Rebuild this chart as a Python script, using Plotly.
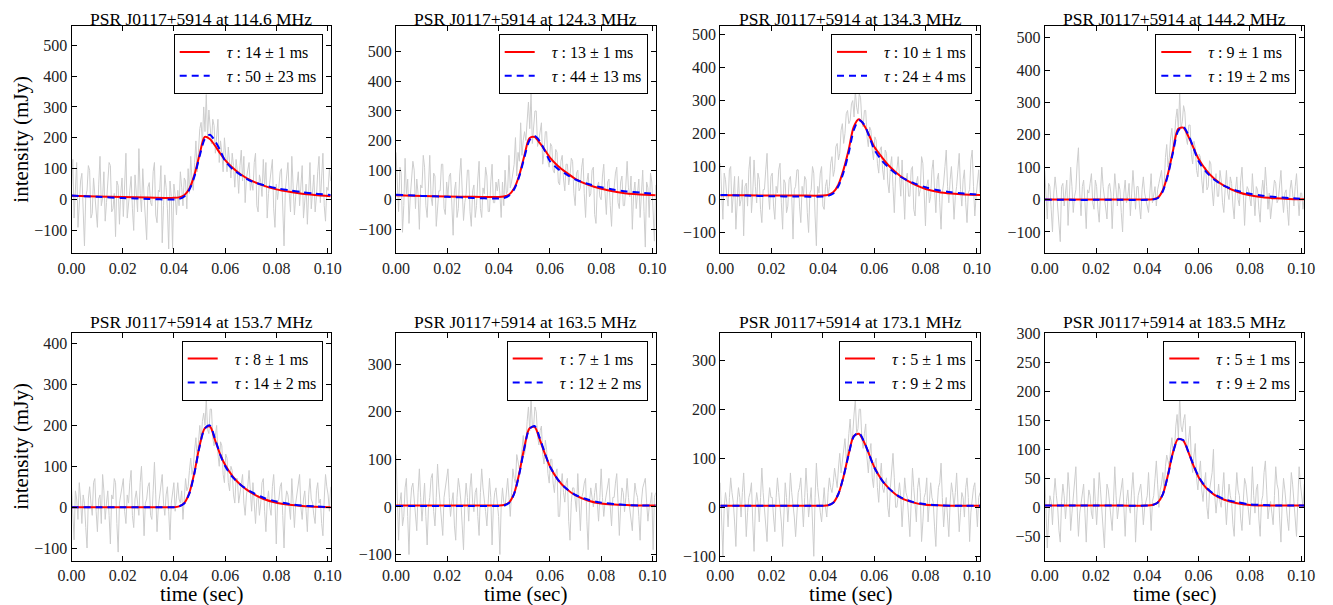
import numpy as np
import plotly.graph_objects as go

# ---------------- data ----------------
freqs = ["114.6", "124.3", "134.3", "144.2", "153.7", "163.5", "173.1", "183.5"]
tau_red = ["14 ± 1", "13 ± 1", "10 ± 1", "9 ± 1", "8 ± 1", "7 ± 1", "5 ± 1", "5 ± 1"]
tau_blue = ["50 ± 23", "44 ± 13", "24 ± 4", "19 ± 2", "14 ± 2", "12 ± 2", "9 ± 2", "9 ± 2"]

t_end = 0.1012
# knot times of the fitted profiles (sec)
t_fit = [0, 0.01, 0.02, 0.03, 0.04, 0.042, 0.044, 0.046, 0.048, 0.050, 0.052, 0.054,
         0.056, 0.058, 0.060, 0.063, 0.066, 0.070, 0.075, 0.080, 0.085, 0.090, 0.095, 0.1012]

fit_red_1 = [12, 10, 8, 6.5, 5.5, 7, 14, 35, 80, 145, 203, 196, 175, 150, 128, 102, 82, 62, 45, 33, 25, 19, 15, 11]
fit_blue_1 = [13, 9, 5, 2, 0, 2, 10, 32, 75, 140, 195, 210, 190, 160, 125, 98, 80, 60, 47, 37, 30, 24, 19, 15]
fit_red_2 = [15, 13, 11, 10, 9, 11, 17, 38, 82, 148, 208, 212, 192, 168, 142, 115, 94, 70, 50, 37, 28, 21, 18, 15]
fit_blue_2 = [17, 13, 10, 6, 4, 6, 14, 35, 78, 142, 200, 215, 198, 165, 130, 105, 88, 68, 53, 42, 34, 28, 24, 20]
fit_red_3 = [13, 13, 12, 12, 12, 14, 22, 45, 90, 150, 220, 243, 225, 195, 160, 128, 100, 72, 48, 32, 23, 18, 15, 14]
fit_blue_3 = [14, 12, 10, 9, 9, 11, 18, 40, 82, 140, 210, 240, 228, 192, 152, 118, 94, 70, 51, 37, 28, 22, 18, 15]
fit_red_4 = [0, 0, 0, 0, 0, 1, 5, 28, 78, 150, 218, 222, 195, 160, 125, 90, 65, 42, 24, 13, 7, 4, 2, 1]
fit_blue_4 = [0, -1, -1, -1, -1, 0, 4, 25, 75, 145, 212, 225, 200, 160, 118, 85, 62, 42, 27, 18, 12, 8, 5, 2]
fit_red_5 = [0, 0, 0, 0, 0, 2, 10, 35, 85, 150, 193, 198, 165, 130, 103, 75, 55, 36, 20, 11, 6, 3, 1, 0]
fit_blue_5 = [0, 0, 0, 0, 0, 2, 9, 33, 83, 148, 192, 200, 168, 130, 100, 73, 55, 38, 23, 14, 8, 4, 2, 0]
fit_red_6 = [3, 3, 3, 3, 3, 4, 9, 28, 70, 125, 165, 168, 142, 112, 85, 58, 40, 24, 13, 7, 5, 4, 3, 3]
fit_blue_6 = [2, 2, 2, 2, 2, 3, 8, 27, 68, 123, 164, 170, 145, 113, 85, 58, 40, 25, 15, 9, 6, 4, 3, 3]
fit_red_7 = [3, 3, 3, 3, 3, 4, 9, 27, 62, 108, 145, 150, 133, 108, 82, 55, 37, 20, 10, 5, 4, 3, 3, 3]
fit_blue_7 = [3, 3, 3, 3, 3, 4, 9, 27, 62, 107, 144, 152, 134, 108, 81, 55, 37, 21, 11, 6, 4, 3, 3, 3]
fit_red_8 = [3, 3, 3, 3, 3, 4, 8, 22, 55, 95, 118, 115, 95, 72, 52, 33, 22, 13, 7, 4, 3, 3, 3, 3]
fit_blue_8 = [3, 3, 3, 3, 3, 4, 8, 22, 54, 94, 117, 116, 96, 73, 53, 34, 23, 14, 9, 5, 4, 3, 3, 3]

# observed profiles (mJy), evenly sampled over 0 .. t_end
obs_1 = [40, 130, -60, 20, 120, -90, -20, 60, 85, -40, -150, 10, 30, 110, 95, -60, -45, 70, 10, -30,
         -90, 50, 140, -20, 5, 90, -70, -10, 60, 120, 110, -40, -30, 20, -120, 60, 45, -80, 20, 70,
         -55, 30, 150, -60, -10, 40, 75, -30, -100, 80, 30, -40, 165, 20, -40, 100, 10, -70, -130, 40,
         55, -10, -20, 90, 120, -50, -75, 30, 25, 110, -140, -20, 80, 40, -30, -160, 60, 10, -160, 50,
         15, -50, 30, -20, 90, 40, -20, 70, 60, -30, 100, 20, 140, 60, 30, 120, 190, 90, 150, 230,
         250, 180, 300, 220, 340, 200, 290, 230, 180, 260, 240, 150, 200, 260, 120, 190, 150, 90, 200, 140,
         90, 170, 130, 70, 150, 110, 40, 130, 90, 20, 110, 160, 60, 140, -10, 70, 95, 120, 30, 60,
         30, 120, 150, -20, -40, 80, 60, 10, 130, 40, 120, -60, 20, 60, 90, 130, -30, -90, 50, 0,
         40, 90, 100, -20, -150, 30, 70, 120, 20, -40, 140, 60, -50, 10, 60, 90, -20, 40, 110, -60,
         0, 50, -80, 20, 120, -30, 40, 80, -40, 10, 90, 140, -10, 60, 150, -20, -70, 40, 30, 100, 60]
obs_2 = [160, 60, -40, 110, 90, -110, -20, 140, 20, 70, -80, 10, 60, 130, 100, -30, 70, 20, -100, 50,
         40, 150, 110, -20, -60, 40, 150, 10, -20, 90, 80, -90, -40, 30, 30, 120, 120, -30, -50, 60,
         10, 80, 90, -40, -120, 30, 60, -60, -30, 80, 140, 30, -70, -10, 20, 100, 100, -40, -90, 30,
         50, -60, -20, 70, 130, -30, -60, 40, 20, 110, 80, -40, -40, 60, 120, -10, -10, 60, 30, 70,
         20, -60, 60, -20, 100, 20, 30, 150, 40, 60, 90, 120, 210, 80, 160, 130, 260, 150, 200, 230,
         200, 260, 330, 240, 360, 190, 250, 300, 300, 180, 200, 240, 260, 120, 160, 230, 230, 130, 110, 190,
         180, 100, 90, 170, 160, 60, 50, 130, 150, 70, 30, 120, 120, 50, 80, 140, 130, 20, -20, 90,
         100, 30, 40, 110, 140, 20, -60, 60, 90, 10, 20, 100, 110, -50, -80, 40, 60, 10, 0, 80,
         120, 20, -50, 60, 70, -20, -90, 30, 40, 90, 110, -10, -30, 60, 80, -20, -20, 50, 130, 40,
         10, 80, -100, 20, 60, -30, 20, 70, -60, 50, 100, -40, -160, 60, 40, -60, 90, 60, -20, -140, 50]
obs_3 = [110, 20, -60, 80, 60, 10, -20, 90, 100, -40, 30, 70, -90, 20, 70, -20, 0, 60, -110, 40,
         50, -20, 90, 130, -40, 20, 120, 40, -10, 80, 60, -30, -70, 30, 30, 90, 140, 20, -30, 70,
         80, -20, -60, 40, 20, 90, 110, -10, -90, 60, 50, -40, -20, 60, 70, 10, -120, 30, 40, 90,
         90, -20, -70, 40, 10, 70, 60, -40, -100, 20, 30, 100, 80, -50, -140, 40, 20, 80, 100, -20,
         -30, 40, 60, 10, 40, 110, 130, 70, 90, 160, 170, 120, 140, 210, 230, 170, 200, 260, 270, 230,
         240, 290, 300, 250, 330, 280, 260, 320, 310, 240, 220, 270, 270, 190, 160, 220, 210, 150, 120, 190,
         180, 110, 80, 150, 160, 90, 60, 150, 140, 50, 20, 100, 130, 40, -40, 70, 90, 130, 60, 10,
         120, 40, -60, 60, 80, 10, 10, 90, 100, -30, -50, 50, 70, 10, 30, 130, 110, 20, -80, 40,
         60, -10, 10, 90, 120, 30, -40, 60, 80, -10, -90, 20, 50, 100, 150, 40, -10, 60, 100, 30,
         -60, 10, 40, 90, 140, 30, -20, 60, 90, -10, -70, 20, 30, 120, 150, 40, -50, 10, 60, 90, 20]
obs_4 = [90, 10, -60, 50, 40, -30, -100, 20, 70, 30, -20, -60, -130, 40, 50, -20, 20, 60, -80, 10,
         100, 40, -40, 10, 30, 110, 160, 20, -50, 40, 60, -10, -90, 30, 20, 50, 80, -10, -30, 60,
         40, -30, -70, 20, 100, 40, 10, -20, -60, 40, 50, 20, -90, 10, 80, 30, -20, 50, 30, -40,
         -100, 20, 60, -10, 10, 50, -50, 20, 90, 30, -30, 40, 40, -20, -60, 30, 70, 20, 0, -30,
         -40, 20, 80, -10, 20, 40, -20, 30, 50, 70, 90, 30, 40, 130, 170, 100, 130, 190, 220, 160,
         190, 250, 280, 210, 330, 220, 240, 290, 270, 190, 170, 230, 230, 140, 110, 180, 160, 90, 70, 140,
         130, 60, 20, 90, 100, 30, 40, 120, 110, 30, -20, 50, 80, 10, 10, 90, 60, -10, -40, 30,
         90, 20, 0, 70, 50, -20, -60, 30, 70, 0, -20, 60, 100, 20, -80, 10, 40, 30, 10, -20,
         80, 20, -50, 40, 30, -30, -70, 20, 60, 10, 100, 40, -30, 20, -60, -20, 20, 60, 50, -10,
         0, 50, 90, 10, -40, 20, 30, -30, -80, 30, 60, 20, -20, 40, 80, 10, -50, 20, 20, -30, 10]
obs_5 = [50, -20, -80, 40, 20, -30, 60, 20, -40, 30, 10, -50, -100, 20, 50, 10, -20, 60, 70, -10,
         -60, 20, 30, -40, 80, 40, -30, 10, 40, -20, -90, 30, 20, 70, 60, -40, -110, 10, 30, 50,
         70, -10, -40, 30, 10, 60, 90, -20, -50, 20, 40, 10, -20, 60, 100, 20, -70, 10, 20, 50,
         60, -20, -30, 40, 110, 30, -60, 0, 30, 60, 80, 10, -20, 30, 50, -10, -80, 10, 40, 60,
         -10, 30, 60, 20, 10, 40, -30, 20, 70, 40, 50, 90, 120, 80, 100, 140, 170, 120, 160, 200,
         160, 210, 230, 200, 265, 190, 180, 240, 240, 170, 150, 180, 200, 130, 100, 160, 150, 80, 60, 130,
         120, 60, 40, 100, 90, 30, 10, 70, 70, 10, 30, 60, 80, 10, -20, 30, 50, 90, 20, -10,
         60, 20, -40, 20, 30, -20, 10, 60, 70, -10, -60, 10, 40, 0, -20, 50, 80, 20, -90, 10,
         20, 50, 60, -20, -100, 10, 40, 30, 0, -30, 70, 20, -50, 10, 30, 60, 80, 0, -30, 20,
         40, -10, -60, 30, 70, 20, 10, -20, -40, 40, 60, 10, 20, -40, -70, 20, 80, 50, 30, -10, 50]
obs_6 = [110, 20, -70, 10, 30, -40, -20, 40, 60, -20, -100, 0, 40, 50, 10, -30, -50, 30, 80, 20,
         -30, 10, 50, -20, -80, 0, 20, 60, 70, -10, -40, 20, 90, 40, 0, -20, -60, 20, 40, 60,
         80, 20, -20, 10, 30, -40, -70, 20, 60, 40, 10, -40, -90, 10, 50, 20, -30, 40, 70, 10,
         -10, 30, 40, -20, -60, 30, 80, 40, 20, -10, -40, 10, 60, 20, -80, 0, 30, 40, 10, -20,
         -100, 0, 40, 10, 0, 30, 60, 20, -20, 30, 80, 60, 50, 110, 90, 80, 90, 130, 150, 110,
         130, 180, 210, 160, 230, 170, 170, 210, 200, 150, 130, 160, 170, 110, 90, 140, 120, 70, 50, 100,
         100, 50, 30, 70, 80, -20, -20, 40, 70, 30, 10, 50, 60, -30, -70, 10, 40, 40, 20, -10,
         70, 20, -50, 20, 30, 50, 60, -30, -90, 10, 40, 20, 0, 30, 50, 10, -30, 20, 80, 20,
         -20, 10, 30, 50, 60, 0, -40, 20, 20, 50, 70, 10, -60, 0, 40, 30, -10, 20, 60, 20,
         0, -30, -50, 10, 50, 30, 20, -20, -70, 10, 40, 50, 60, 10, -30, 0, 10, 30, -90, 20, 30]
obs_7 = [50, -40, -100, 0, 30, 10, -40, 20, 60, 30, 10, -30, -80, 10, 40, 20, -20, 30, 70, 10,
         -60, -10, 20, 30, 50, -30, -90, 0, 30, 10, -30, 20, 80, 30, -10, -40, -70, 10, 40, 20,
         20, -20, -50, 20, 60, 30, 0, -30, -80, 10, 50, 20, -30, 10, 70, 30, 10, -20, -60, 0,
         30, 40, 60, 10, -40, 20, 80, 30, -20, 10, 40, -30, -100, 20, 90, 40, 10, -10, -30, 10,
         40, 0, -20, 30, 60, 40, 30, 50, 80, 60, 40, 80, 110, 70, 90, 120, 140, 100, 110, 150,
         180, 130, 150, 190, 220, 150, 160, 200, 200, 140, 120, 150, 170, 100, 70, 110, 130, 60, 40, 90,
         100, 40, 10, 60, 90, 40, 30, 50, 60, 0, -20, 40, 70, 110, 60, 0, 0, 30, 50, 20,
         -40, 10, 60, 30, 20, -20, -60, 10, 80, 40, 0, -30, 40, 60, 30, -70, -30, 20, 30, 60,
         -30, 10, 50, 20, 10, -40, -80, 0, 40, 50, 90, 20, -40, 0, 20, -20, -60, 10, 50, 30,
         0, 30, 70, 10, -50, -10, 30, 20, -20, 40, 60, 20, -70, -10, 20, 40, 50, 10, -40, 20, 30]
obs_8 = [60, 0, -70, -20, 20, 10, -30, 20, 50, 20, 0, -40, -60, 10, 40, 20, -20, 10, 60, 30,
         -40, -10, 20, 40, 70, 0, -50, -10, 10, 30, 40, -10, -60, 0, 30, 20, -10, -20, 50, 10,
         -30, 10, 60, 30, 0, -40, -70, 0, 40, 30, 10, -20, -40, 10, 70, 20, -20, 0, 20, 30,
         50, 0, -50, 10, 30, 0, -10, 30, 60, 20, -60, -10, 20, 30, 40, 10, -30, 0, 10, 20,
         60, 20, -40, 10, 20, 50, 80, 40, 0, 30, 40, 60, 30, 70, 90, 80, 70, 100, 120, 90,
         100, 140, 160, 120, 190, 140, 130, 150, 160, 110, 100, 120, 140, 80, 60, 90, 110, 50, 30, 60,
         80, 30, 10, 40, 60, 0, -20, 30, 50, 60, 100, 20, -10, 20, 40, 10, 0, 30, 60, 10,
         -30, 10, 40, 20, 10, -30, -50, 20, 60, 30, 20, -20, -40, 10, 50, 40, 20, -10, -30, 10,
         70, 20, -10, 30, 40, -20, -50, 10, 20, 60, 80, 30, -20, 0, 10, -10, -30, 20, 70, 40,
         30, -20, -60, 10, 50, 30, 0, -20, -40, 10, 60, 40, 10, -30, -50, 10, 70, 40, 20, 0, 40]

y_ranges = [[-174, 562], [-181, 587], [-163, 526], [-166, 536],
            [-131, 427], [-113, 366], [-109, 356], [-92, 301]]
y_dticks = [100, 100, 100, 100, 100, 100, 100, 50]

obs = [obs_1, obs_2, obs_3, obs_4, obs_5, obs_6, obs_7, obs_8]
fit_red = [fit_red_1, fit_red_2, fit_red_3, fit_red_4, fit_red_5, fit_red_6, fit_red_7, fit_red_8]
fit_blue = [fit_blue_1, fit_blue_2, fit_blue_3, fit_blue_4, fit_blue_5, fit_blue_6, fit_blue_7, fit_blue_8]

# ---------------- layout geometry (screen pixels) ----------------
W, H = 1333, 605
OFF = 8  # the page places the figure 8 px from the window's top-left corner
col_px = [(71.5, 330.7), (396, 655.7), (720.3, 980), (1044.7, 1304.3)]
row_px = [(26, 253.3), (332.7, 560.7)]
title_y = [18.7, 321.7]


def px(x):
    return (x - OFF) / W


def py(y):
    return 1 - (y - OFF) / H


FONT = "Liberation Serif"
PAD = "\u00a0\u00a0\u00a0"
fig = go.Figure()
annotations = []

for k in range(8):
    r, c = divmod(k, 4)
    n = k + 1
    xa = "x" if n == 1 else f"x{n}"
    ya = "y" if n == 1 else f"y{n}"
    lg = "legend" if n == 1 else f"legend{n}"
    t_obs = np.linspace(0, t_end, len(obs[k]))
    fig.add_trace(go.Scatter(x=t_obs, y=obs[k], mode="lines",
                             line=dict(color="#cdcdcd", width=1),
                             showlegend=False, hoverinfo="skip",
                             xaxis=xa, yaxis=ya))
    fig.add_trace(go.Scatter(x=t_fit, y=fit_red[k], mode="lines",
                             line=dict(color="#ff0000", width=2, shape="spline", smoothing=0.8),
                             name=f"{PAD}<i>τ</i> : {tau_red[k]} ms", legend=lg,
                             xaxis=xa, yaxis=ya))
    fig.add_trace(go.Scatter(x=t_fit, y=fit_blue[k], mode="lines",
                             line=dict(color="#0000ff", width=2, dash="7px,5px", shape="spline", smoothing=0.8),
                             name=f"{PAD}<i>τ</i> : {tau_blue[k]} ms", legend=lg,
                             xaxis=xa, yaxis=ya))

    x0, x1 = col_px[c]
    y0, y1 = row_px[r]
    dom_x = [px(x0), px(x1)]
    dom_y = [py(y1), py(y0)]
    axis_common = dict(showline=True, linecolor="black", linewidth=1, mirror="ticks",
                       ticks="inside", ticklen=5, tickcolor="black", showgrid=False,
                       zeroline=False, automargin=False,
                       tickfont=dict(family=FONT, size=16, color="#222"))
    fig.update_layout({
        ("xaxis" if n == 1 else f"xaxis{n}"): dict(
            domain=dom_x, anchor=ya, range=[0, t_end], dtick=0.02, tick0=0,
            tickformat=".2f", **axis_common),
        ("yaxis" if n == 1 else f"yaxis{n}"): dict(
            domain=dom_y, anchor=xa, range=y_ranges[k], dtick=y_dticks[k], tick0=0,
            **axis_common),
        lg: dict(x=px(x1 - 8), y=py(y0 + 8), xanchor="right", yanchor="top",
                 xref="paper", yref="paper", bgcolor="white", bordercolor="black",
                 borderwidth=1, font=dict(family=FONT, size=16, color="black"),
                 tracegroupgap=0),
    })
    annotations.append(dict(text=f"PSR J0117+5914 at {freqs[k]} MHz", x=px((x0 + x1) / 2),
                            y=py(title_y[r]), xref="paper", yref="paper",
                            showarrow=False, xanchor="center", yanchor="middle",
                            font=dict(family=FONT, size=17.5, color="black")))
    if c == 0:
        annotations.append(dict(text="intensity (mJy)", x=px(21), y=py((y0 + y1) / 2),
                                xref="paper", yref="paper", showarrow=False, textangle=-90,
                                xanchor="center", yanchor="middle",
                                font=dict(family=FONT, size=21, color="black")))
    if r == 1:
        annotations.append(dict(text="time (sec)", x=px((x0 + x1) / 2), y=py(594),
                                xref="paper", yref="paper", showarrow=False,
                                xanchor="center", yanchor="middle",
                                font=dict(family=FONT, size=21, color="black")))

fig.update_layout(template="none", width=W, height=H,
                  margin=dict(l=0, r=0, t=0, b=0, pad=0),
                  paper_bgcolor="white", plot_bgcolor="white",
                  annotations=annotations)

fig.write_html("out.html")
